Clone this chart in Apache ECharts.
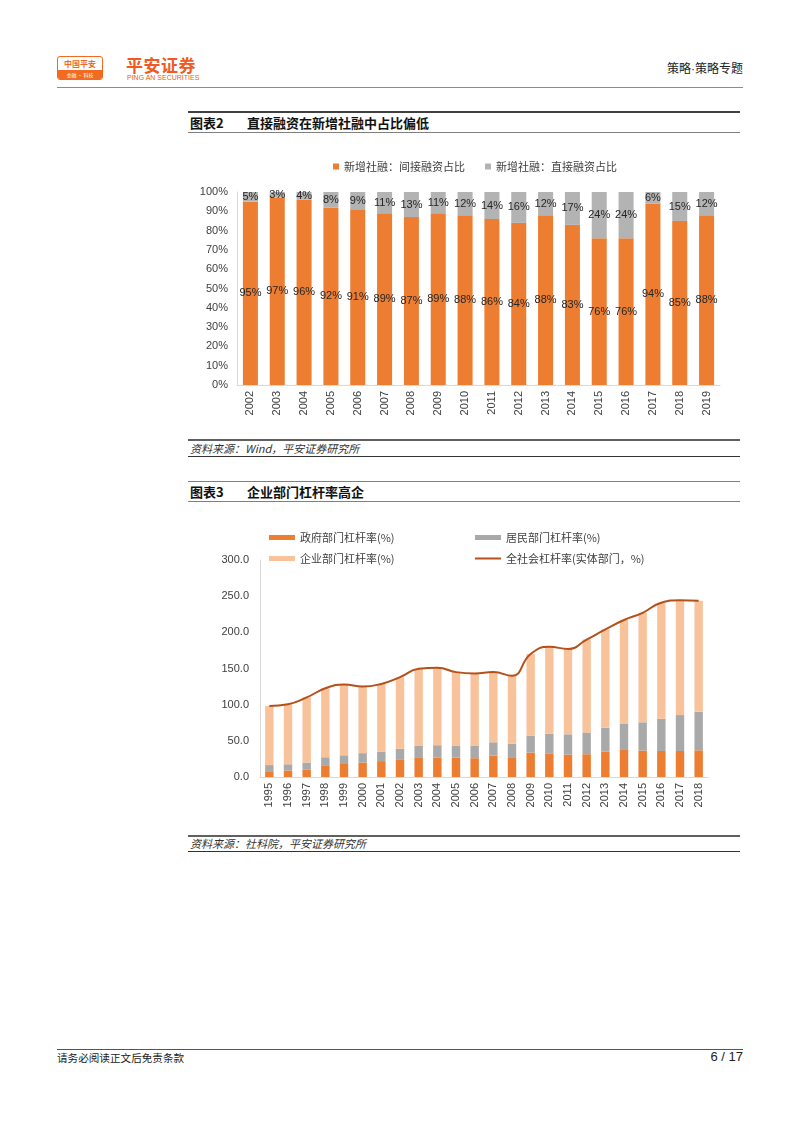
<!DOCTYPE html>
<html><head><meta charset="utf-8">
<script src="https://cdn.jsdelivr.net/npm/echarts@6/dist/echarts.min.js"></script>
<style>
html,body{margin:0;padding:0;background:#fff;}
body{width:802px;height:1133px;position:relative;overflow:hidden;font-family:"Liberation Sans","Noto Sans CJK SC",sans-serif;color:#222;}
.abs{position:absolute;}
.cn{font-family:"Noto Sans CJK SC","Liberation Sans",sans-serif;}
.hl{position:absolute;height:0;}
</style></head><body>
<!-- header -->
<div class="abs" style="left:57px;top:56px;width:44px;height:22px;border:1px solid #f26b21;border-radius:3px;overflow:hidden;background:#fff;">
  <div class="cn" style="font-size:8px;color:#f26b21;text-align:center;line-height:13px;font-weight:bold;">中国平安</div>
  <div class="cn" style="background:#f26b21;color:#fff;font-size:5px;line-height:9px;text-align:center;">金融 · 科技</div>
</div>
<div class="abs cn" style="left:126px;top:56px;font-size:17px;font-weight:bold;color:#f05a22;letter-spacing:0.5px;line-height:18px;">平安证券</div>
<div class="abs" style="left:127px;top:74px;font-size:7px;color:#f05a22;line-height:8px;">PING AN SECURITIES</div>
<div class="abs cn" style="right:59px;top:60px;font-size:12px;color:#222;line-height:16px;">策略<span style="font-family:'Liberation Sans';">·</span>策略专题</div>
<div class="hl" style="left:57px;top:87px;width:686px;border-top:1.5px solid #8c8c8c;"></div>

<!-- chart 2 title -->
<div class="hl" style="left:188px;top:111px;width:552px;border-top:2px solid #404040;"></div>
<div class="abs cn" style="left:190px;top:114px;font-size:13px;font-weight:bold;line-height:17px;color:#111;">图表2</div>
<div class="abs cn" style="left:247px;top:114px;font-size:13px;font-weight:bold;line-height:17px;color:#111;">直接融资在新增社融中占比偏低</div>
<div class="hl" style="left:188px;top:132px;width:552px;border-top:1px solid #808080;"></div>
<div id="c1" class="abs" style="left:180px;top:150px;width:560px;height:280px;"></div>
<div class="hl" style="left:188px;top:439px;width:552px;border-top:2px solid #606060;"></div>
<div class="abs cn" style="left:190px;top:441px;font-size:11px;font-style:italic;line-height:15px;color:#333;">资料来源：Wind，平安证券研究所</div>
<div class="hl" style="left:188px;top:456px;width:552px;border-top:1px solid #333;"></div>

<!-- chart 3 title -->
<div class="hl" style="left:188px;top:481px;width:552px;border-top:1px solid #808080;"></div>
<div class="abs cn" style="left:190px;top:483px;font-size:13px;font-weight:bold;line-height:17px;color:#111;">图表3</div>
<div class="abs cn" style="left:247px;top:483px;font-size:13px;font-weight:bold;line-height:17px;color:#111;">企业部门杠杆率高企</div>
<div class="hl" style="left:188px;top:501px;width:552px;border-top:1px solid #808080;"></div>
<div id="c2" class="abs" style="left:180px;top:520px;width:560px;height:312px;"></div>
<div class="hl" style="left:188px;top:835px;width:552px;border-top:2px solid #606060;"></div>
<div class="abs cn" style="left:190px;top:836px;font-size:11px;font-style:italic;line-height:15px;color:#333;">资料来源：社科院，平安证券研究所</div>
<div class="hl" style="left:188px;top:851px;width:552px;border-top:1px solid #333;"></div>

<!-- footer -->
<div class="hl" style="left:57px;top:1049px;width:686px;border-top:1.5px solid #555;"></div>
<div class="abs cn" style="left:57px;top:1051px;font-size:10.6px;line-height:14px;color:#222;">请务必阅读正文后免责条款</div>
<div class="abs" style="right:59px;top:1049px;font-size:13px;line-height:16px;color:#222;">6 / 17</div>

<script>
// ---- Chart 2 data (图表2) ----
var years1 = ['2002','2003','2004','2005','2006','2007','2008','2009','2010','2011','2012','2013','2014','2015','2016','2017','2018','2019'];
var indirectShare = [95,97,96,92,91,89,87,89,88,86,84,88,83,76,76,94,85,88];
var directShare = [5,3,4,8,9,11,13,11,12,14,16,12,17,24,24,6,15,12];
var names1 = ['新增社融：间接融资占比','新增社融：直接融资占比'];

// ---- Chart 3 data (图表3) ----
var years2 = ['1995','1996','1997','1998','1999','2000','2001','2002','2003','2004','2005','2006','2007','2008','2009','2010','2011','2012','2013','2014','2015','2016','2017','2018'];
var govLev = [8,9,10,15.3,18,20,22,24.5,27.3,27,27,26,29.6,27.3,33.8,32,31,31.5,35,38.4,36.6,36,36,36.9];
var hhLev = [8.5,8.6,10,12,12,13,13,14.5,15.7,17,16.5,17,18.4,18.7,23.2,28,28,30.1,33,35.6,39,44.5,49.6,53.2];
var corpLev = [81.5,83,90,95.4,98,92,93.7,99,106.5,107,101.5,100,97,94,113,120,118,128.4,136,143,151.4,160.5,158.8,153.6];
var totalLev = [98,100.5,110,122.7,128,125,128.7,138,149.5,151,145,143,145,140,170,180,177,190,204,217,227,241,244.4,243.7];
var names2 = ['政府部门杠杆率(%)','居民部门杠杆率(%)','企业部门杠杆率(%)','全社会杠杆率(实体部门，%)'];

var FONT = '"Liberation Sans","Noto Sans CJK SC",sans-serif';
var CN = '"Noto Sans CJK SC","Liberation Sans",sans-serif';

var c1 = echarts.init(document.getElementById('c1'));
c1.setOption({
  animation:false,
  textStyle:{fontFamily:FONT},
  legend:{left:148,top:6,itemWidth:6,itemHeight:6,itemGap:20,icon:'rect',
    textStyle:{fontSize:11,color:'#404040',fontFamily:CN},data:names1},
  grid:{left:57,right:20,top:42,bottom:45},
  xAxis:{type:'category',data:years1,
    axisLine:{lineStyle:{color:'#d9d9d9'}},axisTick:{show:false},
    axisLabel:{rotate:90,fontSize:11,color:'#404040',margin:6}},
  yAxis:{type:'value',min:0,max:100,interval:10,
    axisLine:{show:true,lineStyle:{color:'#d9d9d9'}},splitLine:{show:false},
    axisLabel:{formatter:'{value}%',fontSize:11,color:'#404040',margin:9}},
  series:[
    {name:names1[0],type:'bar',stack:'s',data:indirectShare,barWidth:'56%',
     itemStyle:{color:'#ed7d31'},
     label:{show:true,position:'inside',formatter:'{c}%',fontSize:11,color:'#262626'}},
    {name:names1[1],type:'bar',stack:'s',data:directShare,barWidth:'56%',
     itemStyle:{color:'#b3b3b3'},
     label:{show:true,position:'inside',formatter:'{c}%',fontSize:11,color:'#262626'}}
  ]
});

var c2 = echarts.init(document.getElementById('c2'));
var lg = {itemWidth:26,itemHeight:5,icon:'rect',textStyle:{fontSize:11,color:'#404040',fontFamily:CN}};
c2.setOption({
  animation:false,
  textStyle:{fontFamily:FONT},
  legend:[
    Object.assign({left:84,top:7,data:[names2[0]]},lg),
    Object.assign({left:290,top:7,data:[names2[1]]},lg),
    Object.assign({left:84,top:28,data:[names2[2]]},lg),
    Object.assign({left:290,top:28,data:[{name:names2[3],icon:'path://M0,0 L26,0 L26,2 L0,2 Z'}]},{itemWidth:26,itemHeight:2,textStyle:lg.textStyle})
  ],
  grid:{left:80,right:32,top:40,bottom:55},
  xAxis:{type:'category',data:years2,
    axisLine:{lineStyle:{color:'#d9d9d9'}},axisTick:{show:false},
    axisLabel:{rotate:90,fontSize:11,color:'#404040',margin:6}},
  yAxis:{type:'value',min:0,max:300,interval:50,
    axisLine:{show:true,lineStyle:{color:'#d9d9d9'}},splitLine:{show:false},
    axisLabel:{formatter:function(v){return v.toFixed(1);},fontSize:11,color:'#404040',margin:11}},
  series:[
    {name:names2[0],type:'bar',stack:'a',data:govLev,barWidth:'45%',itemStyle:{color:'#ed7d31'}},
    {name:names2[1],type:'bar',stack:'a',data:hhLev,barWidth:'45%',itemStyle:{color:'#a9a9a9'}},
    {name:names2[2],type:'bar',stack:'a',data:corpLev,barWidth:'45%',itemStyle:{color:'#f8c29b'}},
    {name:names2[3],type:'line',data:totalLev,smooth:true,symbol:'none',
     lineStyle:{color:'#b5501a',width:2},itemStyle:{color:'#b5501a'}}
  ]
});
</script>
</body></html>
